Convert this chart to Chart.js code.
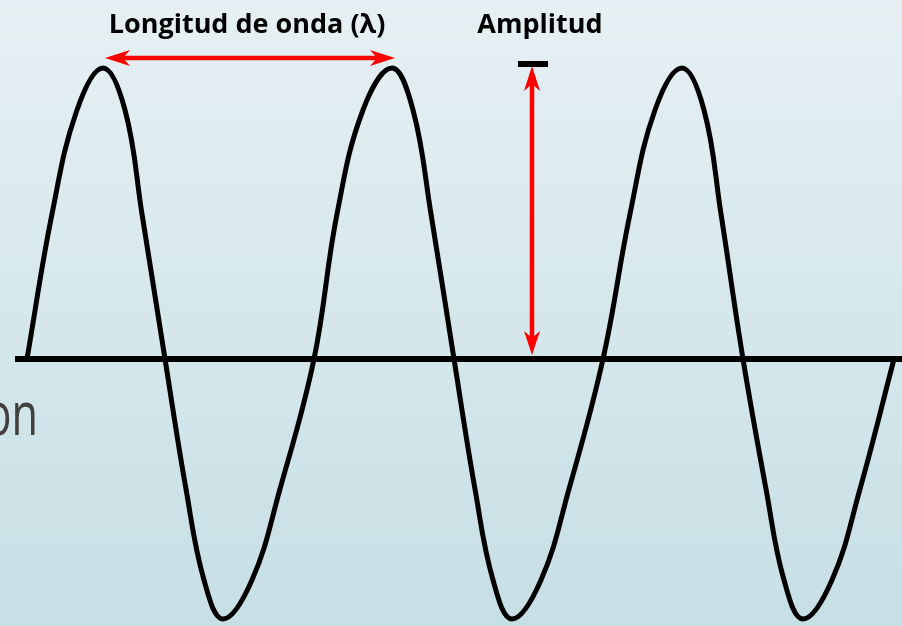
<!DOCTYPE html>
<html>
<head>
<meta charset="utf-8">
<script src="https://cdn.jsdelivr.net/npm/chart.js@4/dist/chart.umd.min.js"></script>
<style>
html,body{margin:0;padding:0;overflow:hidden;background:#d6e7ec;}
canvas{display:block;}
</style>
</head>
<body>
<canvas id="c" width="902" height="626"></canvas>
<script>
// Wave trace (x position, displacement above baseline)
const waveX = [27,52,77,103,125,142,
  165,186,204,223,252,280,
  314,337,363,392,413,431,
  454,475,493,512,541,569,
  603,630,655,682,704,721,
  743,766,784,803,832,860,
  894];
const waveY = [0,145,249,291,249,145,
  0,-130,-221,-260,-221,-130,
  0,145,249,291,249,145,
  0,-130,-221,-260,-221,-130,
  0,145,249,291,249,145,
  0,-130,-221,-260,-221,-130,
  0];
// Baseline (zero axis)
const axisX = [15, 902];
const axisY = [0, 0];
// Annotation anchors
const peak1X = 105, peak2X = 395, wavelengthArrowY = 301;
const ampX = 532, ampTop = 293, ampBottom = 4;
const labelWavelength = "Longitud de onda (\u03BB)";
const labelAmplitude = "Amplitud";
const sideText = "on";

const wave = waveX.map((x,i)=>({x, y: waveY[i]}));
const axis = axisX.map((x,i)=>({x, y: axisY[i]}));

function arrowHead(ctx, tx, ty, dx, dy, len, half, notch){
  const px = -dy, py = dx;
  const bx = tx - dx*len, by = ty - dy*len;
  const nx = tx - dx*(len-notch), ny = ty - dy*(len-notch);
  ctx.beginPath();
  ctx.moveTo(tx,ty);
  ctx.lineTo(bx + px*half, by + py*half);
  ctx.lineTo(nx, ny);
  ctx.lineTo(bx - px*half, by - py*half);
  ctx.closePath();
  ctx.fill();
}

const bgPlugin = {
  id:'bg',
  beforeDraw(chart){
    const {ctx, width, height} = chart;
    const g = ctx.createLinearGradient(0,0,0,height);
    g.addColorStop(0,'#e6f0f3');
    g.addColorStop(1,'#c6dfe5');
    ctx.save();
    ctx.fillStyle = g;
    ctx.fillRect(0,0,width,height);
    ctx.fillStyle = '#404040';
    ctx.font = '400 60px "Open Sans", sans-serif';
    ctx.textAlign = 'right';
    ctx.textBaseline = 'alphabetic';
    ctx.translate(38, 435);
    ctx.scale(0.72, 1);
    ctx.fillText(sideText, 0, 0);
    ctx.restore();
  }
};

const annPlugin = {
  id:'ann',
  afterDatasetsDraw(chart){
    const {ctx} = chart;
    const xs = chart.scales.x, ys = chart.scales.y;
    ctx.save();
    const x1 = xs.getPixelForValue(peak1X), x2 = xs.getPixelForValue(peak2X);
    const ya = ys.getPixelForValue(wavelengthArrowY);
    ctx.strokeStyle = '#ff0000'; ctx.fillStyle = '#ff0000';
    ctx.lineWidth = 4.5;
    ctx.beginPath(); ctx.moveTo(x1+15, ya); ctx.lineTo(x2-15, ya); ctx.stroke();
    arrowHead(ctx, x1, ya, -1, 0, 25, 8, 7);
    arrowHead(ctx, x2, ya, 1, 0, 25, 8, 7);
    const ax = xs.getPixelForValue(ampX);
    const yt = ys.getPixelForValue(ampTop), yb = ys.getPixelForValue(ampBottom);
    ctx.beginPath(); ctx.moveTo(ax, yt+15); ctx.lineTo(ax, yb-15); ctx.stroke();
    arrowHead(ctx, ax, yt, 0, -1, 25, 8, 7);
    arrowHead(ctx, ax, yb, 0, 1, 24, 8, 7);
    ctx.fillStyle = '#000';
    ctx.fillRect(ax-14, yt-5, 30, 6);
    ctx.fillStyle = '#000';
    ctx.font = 'bold 27px "Open Sans", sans-serif';
    ctx.textAlign = 'center';
    ctx.textBaseline = 'alphabetic';
    ctx.fillText(labelWavelength, 247, 33);
    ctx.fillText(labelAmplitude, 540, 33);
    ctx.restore();
  }
};

new Chart(document.getElementById('c'), {
  type:'line',
  data:{
    datasets:[
      {data: axis, borderColor:'#000', borderWidth:6, pointRadius:0, tension:0, borderCapStyle:'butt'},
      {data: wave, borderColor:'#000', borderWidth:5, pointRadius:0, tension:0.4, borderJoinStyle:'round'}
    ]
  },
  options:{
    responsive:false,
    animation:false,
    events:[],
    layout:{padding:0},
    plugins:{legend:{display:false}, tooltip:{enabled:false}},
    scales:{
      x:{type:'linear', min:0, max:902, display:false},
      y:{type:'linear', min:-267, max:359, display:false}
    }
  },
  plugins:[bgPlugin, annPlugin]
});
</script>
</body>
</html>
